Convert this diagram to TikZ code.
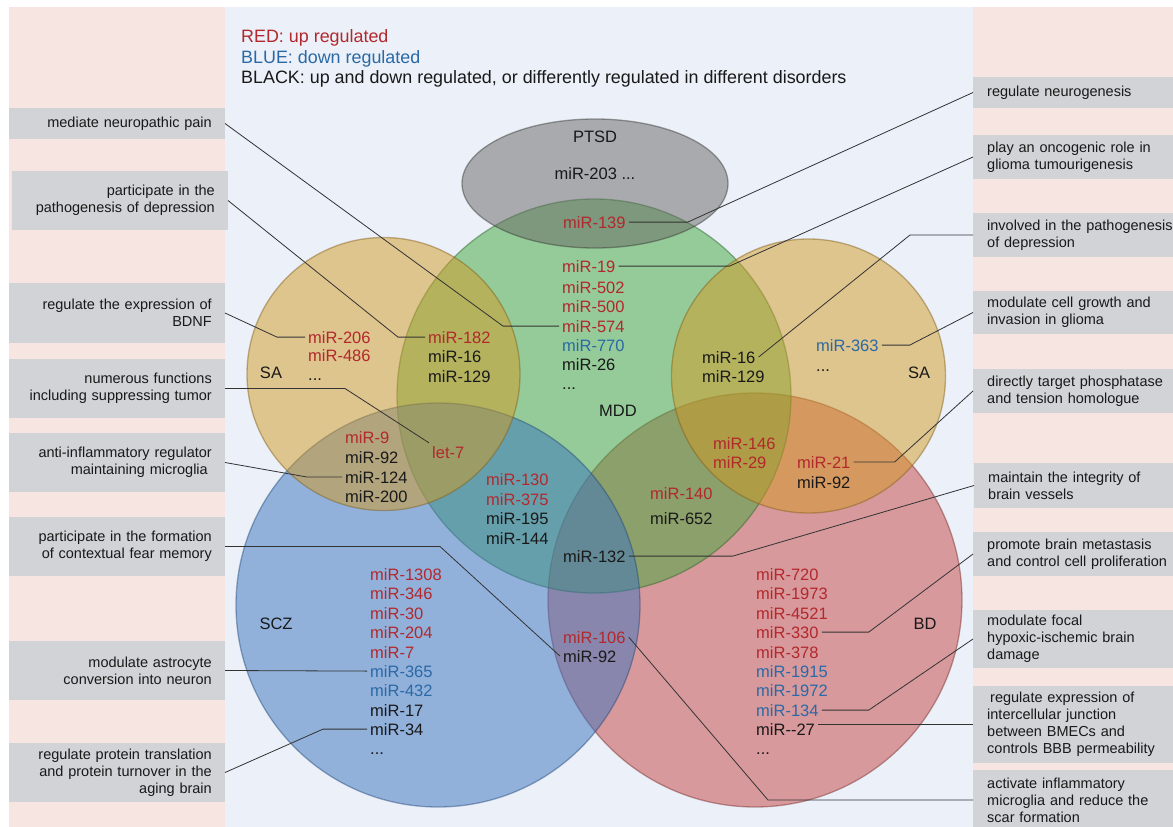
\documentclass[tikz,border=0pt]{standalone}
\usepackage{fontspec}
\setmainfont{Liberation Sans}
\definecolor{pinkbg}{RGB}{247,229,226}
\definecolor{bluebg}{RGB}{235,240,249}
\definecolor{boxgray}{RGB}{209,211,214}
\definecolor{tred}{RGB}{178,40,44}
\definecolor{tblue}{RGB}{42,105,165}
\definecolor{tblack}{RGB}{25,25,25}
\definecolor{ctan}{RGB}{211,154,35}
\definecolor{cgreen}{RGB}{65,168,59}
\definecolor{cblue}{RGB}{57,116,191}
\definecolor{cred}{RGB}{199,68,65}
\definecolor{cgray}{RGB}{103,102,99}
\newcommand\boxfont{\fontsize{14.5}{17}\selectfont}
\newcommand\mirfont{\fontsize{16.5}{19.4}\selectfont}
\newcommand\legfont{\fontsize{17.9}{20}\selectfont}
\tikzset{
  venn/.style={fill opacity=0.5, draw opacity=0.45, line width=1.3pt},
  lbox/.style={fill=boxgray, anchor=east, text width=190pt, inner xsep=13pt, inner ysep=0pt, align=right, font=\boxfont, text=tblack},
  rbox/.style={fill=boxgray, anchor=west, text width=186pt, inner xsep=14pt, inner ysep=0pt, align=left, font=\boxfont, text=tblack},
  mir/.style={anchor=base west, inner sep=3pt, font=\mirfont, text=tblack},
  mr/.style={mir, text=tred},
  mb/.style={mir, text=tblue},
  lab/.style={font=\mirfont, text=tblack, inner sep=2pt},
  conn/.style={draw=black!80, line width=0.8pt},
}
\begin{document}
\begin{tikzpicture}[x=1pt, y=-1pt]
\useasboundingbox (0,0) rectangle (1173,827);
% backgrounds
\fill[white] (0,0) rectangle (1173,827);
\fill[pinkbg] (9,7) rectangle (225,827);
\fill[bluebg] (225,7) rectangle (973,827);
\fill[pinkbg] (973,7) rectangle (1173,827);

% legend
\node[anchor=base west, inner sep=0pt, font=\legfont, text=tred] (leg1) at (241,42) {RED: up regulated};
\node[anchor=base west, inner sep=0pt, font=\legfont, text=tblue] (leg2) at (241,63) {BLUE: down regulated};
\node[anchor=base west, inner sep=0pt, font=\legfont, text=tblack] (leg3) at (241,83) {BLACK: up and down regulated, or differently regulated in different disorders};

% venn shapes (order: BD, MDD, SCZ, SA, SA, PTSD)
\path[venn, fill=cred, draw=cred!60!black] (755,600) circle[radius=207pt];
\path[venn, fill=cgreen, draw=cgreen!60!black] (594,396) circle[radius=197pt];
\path[venn, fill=cblue, draw=cblue!60!black] (438,605) circle[radius=202pt];
\path[venn, fill=ctan, draw=ctan!60!black] (383.5,374) circle[radius=136.5pt];
\path[venn, fill=ctan, draw=ctan!60!black] (808.5,376) circle[radius=137pt];
\path[venn, fill=cgray, draw=cgray!50!black] (595,183.5) ellipse[x radius=133pt, y radius=64.5pt];

% disease labels
\node[lab] (ptsd) at (595,137) {PTSD};
\node[lab] (mdd) at (618,411) {MDD};
\node[lab] (saL) at (271,373) {SA};
\node[lab] (saR) at (919,373) {SA};
\node[lab] (scz) at (276,624) {SCZ};
\node[lab] (bd) at (925,624) {BD};

% PTSD / MDD
\node[mir, anchor=base] (m203) at (595,179) {miR-203 ...};
\node[mr] (m139) at (560,228) {miR-139};
\node[mr] (m19) at (559,272) {miR-19};
\node[mr] (m502) at (559,293) {miR-502};
\node[mr] (m500) at (559,312) {miR-500};
\node[mr] (m574) at (559,332) {miR-574};
\node[mb] (m770) at (559,351) {miR-770};
\node[mir] (m26) at (559,370) {miR-26};
\node[mir] (mddd) at (559,389) {...};

% left SA
\node[mr] (m206) at (305,343) {miR-206};
\node[mr] (m486) at (305,361) {miR-486};
\node[mir] (sald) at (305,380) {...};
\node[mr] (m182) at (425,343) {miR-182};
\node[mir] (m16a) at (425,362) {miR-16};
\node[mir] (m129a) at (425,382) {miR-129};
\node[mr] (m9) at (342,443) {miR-9};
\node[mir] (m92a) at (342,463) {miR-92};
\node[mir] (m124) at (342,483) {miR-124};
\node[mir] (m200) at (342,502) {miR-200};
\node[mr] (let7) at (429,458) {let-7};
\node[mr] (m130) at (483,485) {miR-130};
\node[mr] (m375) at (483,505) {miR-375};
\node[mir] (m195) at (483,524) {miR-195};
\node[mir] (m144) at (483,544) {miR-144};

% right SA
\node[mir] (m16b) at (699,363) {miR-16};
\node[mir] (m129b) at (699,382) {miR-129};
\node[mr] (m146) at (710,449) {miR-146};
\node[mr] (m29) at (710,468) {miR-29};
\node[mr] (m140) at (647,499) {miR-140};
\node[mir] (m652) at (647,524) {miR-652};
\node[mb] (m363) at (813,351) {miR-363};
\node[mir] (sard) at (813,371) {...};
\node[mr] (m21) at (794,468) {miR-21};
\node[mir] (m92b) at (794,488) {miR-92};
\node[mir] (m132) at (560,562) {miR-132};

% SCZ
\node[mr] (m1308) at (367,580) {miR-1308};
\node[mr] (m346) at (367,599) {miR-346};
\node[mr] (m30) at (367,619) {miR-30};
\node[mr] (m204) at (367,638) {miR-204};
\node[mr] (m7) at (367,658) {miR-7};
\node[mb] (m365) at (367,677) {miR-365};
\node[mb] (m432) at (367,696) {miR-432};
\node[mir] (m17) at (367,716) {miR-17};
\node[mir] (m34) at (367,735) {miR-34};
\node[mir] (sczd) at (367,754) {...};
\node[mr] (m106) at (560,643) {miR-106};
\node[mir] (m92c) at (560,662) {miR-92};

% BD
\node[mr] (m720) at (753,580) {miR-720};
\node[mr] (m1973) at (753,599) {miR-1973};
\node[mr] (m4521) at (753,619) {miR-4521};
\node[mr] (m330) at (753,638) {miR-330};
\node[mr] (m378) at (753,658) {miR-378};
\node[mb] (m1915) at (753,677) {miR-1915};
\node[mb] (m1972) at (753,696) {miR-1972};
\node[mb] (m134) at (753,716) {miR-134};
\node[mir] (m27) at (753,735) {miR-{}-27};
\node[mir] (bdd) at (753,754) {...};

% left boxes
\node[lbox, minimum height=31pt] (b1) at (225,123.5) {mediate neuropathic pain};
\node[lbox, minimum height=59pt] (b2) at (228,200.5) {participate in the\\pathogenesis of depression};
\node[lbox, minimum height=60pt] (b3) at (225,313) {regulate the expression of\\BDNF};
\node[lbox, minimum height=59pt] (b4) at (225,388.5) {numerous functions\\including suppressing tumor};
\node[lbox, minimum height=59pt] (b5) at (225,462.5) {anti-inflammatory regulator\hspace*{4pt}\\maintaining microglia\hspace*{4pt}};
\node[lbox, minimum height=59pt] (b6) at (225,546.5) {participate in the formation\\of contextual fear memory};
\node[lbox, minimum height=59pt] (b7) at (225,670.5) {modulate astrocyte\\conversion into neuron};
\node[lbox, minimum height=59pt] (b8) at (225,772.5) {regulate protein translation\\and protein turnover in the\\aging brain};

% right boxes
\node[rbox, minimum height=31pt] (r1) at (973,92.5) {regulate neurogenesis};
\node[rbox, minimum height=44pt] (r2) at (973,157) {play an oncogenic role in\\glioma tumourigenesis};
\node[rbox, minimum height=44pt] (r3) at (973,235) {involved in the pathogenesis\\of depression};
\node[rbox, minimum height=43pt] (r4) at (973,312.5) {modulate cell growth and\\invasion in glioma};
\node[rbox, minimum height=44pt] (r5) at (973,391) {directly target phosphatase\\and tension homologue};
\node[rbox, minimum height=45pt] (r6) at (974,485.5) {maintain the integrity of\\brain vessels};
\node[rbox, minimum height=44pt] (r7) at (973,554) {promote brain metastasis\\and control cell proliferation};
\node[rbox, minimum height=58pt] (r8) at (973,639) {modulate focal\\hypoxic-ischemic brain\\damage};
\node[rbox, minimum height=77pt] (r9) at (973,724.5) {\hspace*{3pt}regulate expression of\\intercellular junction\\between BMECs and\\controls BBB permeability};
\node[rbox, minimum height=60pt] (r10) at (973,800) {activate inflammatory\\microglia and reduce the\\scar formation};

% connectors left
\draw[conn] (m574.west) -- ++(-56,0) -- (b1.east);
\draw[conn] (m182.west) -- ++(-27,0) -- (b2.east);
\draw[conn] (m206.west) -- ++(-28,0) -- (b3.east);
\draw[conn] (b4.east) -- ++(120,0) -- (let7.north west);
\draw[conn] (m124.west) -- ++(-35,0) -- (b5.east);
\draw[conn] (b6.east) -- ++(215,0) -- (m92c.west);
\draw[conn] (b7.east) -- (m365.west);
\draw[conn] (m34.west) -- ++(-44,0) -- (b8.east);
% connectors right
\draw[conn] (m139.east) -- ++(59,0) -- (r1.west);
\draw[conn] (m19.east) -- ++(111,0) -- (r2.west);
\draw[conn] (r3.west) -- ++(-63,0) -- (m16b.east);
\draw[conn] (m363.east) -- ++(28,0) -- (r4.west);
\draw[conn] (m21.east) -- ++(41,0) -- (r5.west);
\draw[conn] (m132.east) -- ++(104,0) -- (r6.west);
\draw[conn] (m330.east) -- ++(47,0) -- (r7.west);
\draw[conn] (m134.east) -- ++(47,0) -- (r8.west);
\draw[conn] (r9.west) -- (r9.west -| m27.east);
\draw[conn] (r10.west) -- ++(-205,0) -- (m106.east);
\end{tikzpicture}
\end{document}
